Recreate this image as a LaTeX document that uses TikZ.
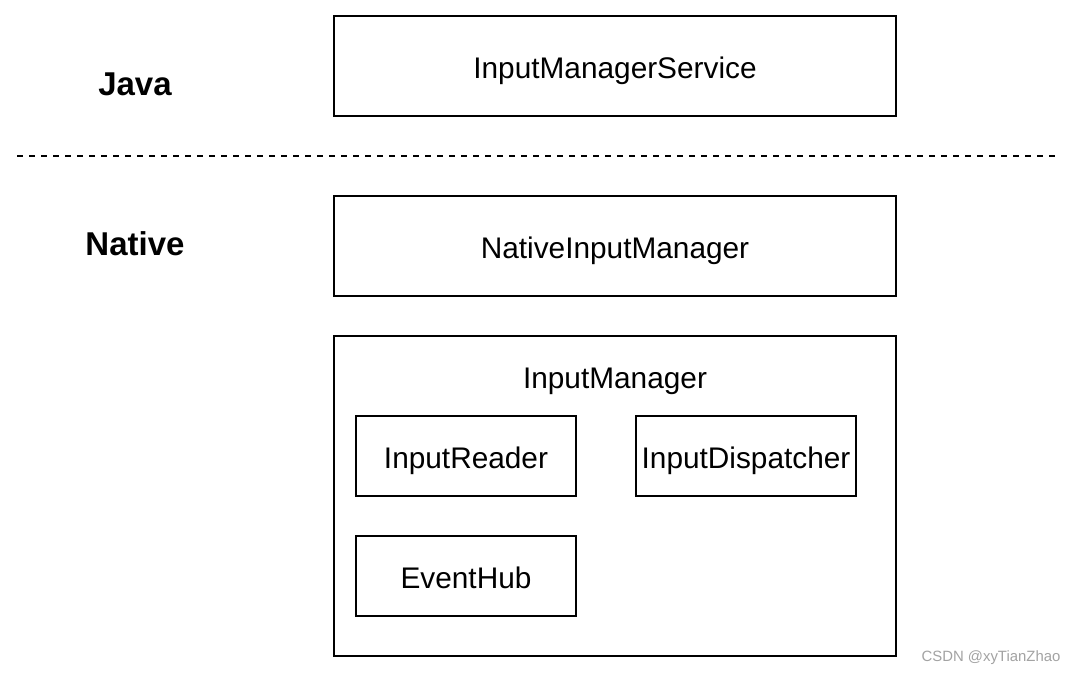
\documentclass[tikz,border=0pt]{standalone}
\usepackage{fontspec}
\setmainfont{Liberation Sans}
\definecolor{markgray}{HTML}{A3A3A3}
\tikzset{
  block/.style={draw,line width=1.5pt,minimum width=562pt,minimum height=100pt,inner sep=0pt,text height=28pt,text depth=2.6pt,font=\fontsize{29.8}{34}\selectfont},
  subblock/.style={block,minimum width=220pt,minimum height=80pt},
  layer/.style={font=\fontsize{33}{38}\selectfont\bfseries}
}
\begin{document}
\begin{tikzpicture}[x=1pt,y=-1pt]
        \useasboundingbox[fill=white] (0,0) rectangle (1076,674);

        % layer names
        \node[layer] (java)   at (135,84)  {Java};
        \node[layer] (native) at (135,244) {Native};

        \coordinate (sepL) at (17,156);
        \coordinate (sepR) at (1056,156);
        \draw[line width=1.5pt,dash pattern=on 6pt off 6pt] (sepL) -- (sepR);

        \node[block] (ims)  at (615,66)  {InputManagerService};
        \node[block] (nim)  at (615,246) {NativeInputManager};
        \node[block,minimum height=320pt] (im) at (615,496) {};
        \node[font=\fontsize{29.8}{34}\selectfont] (imlabel) at (615,381) {InputManager};

        \begin{scope}[every node/.style={subblock}]
          \node (reader)     at (466,456) {InputReader};
          \node (dispatcher) at (746,456) {InputDispatcher};
          \node (hub)        at (466,576) {EventHub};
        \end{scope}

        \node[text=markgray,font=\fontsize{14.9}{17}\selectfont] (csdn) at (991,658) {CSDN @xyTianZhao};

      \end{tikzpicture}
\end{document}
